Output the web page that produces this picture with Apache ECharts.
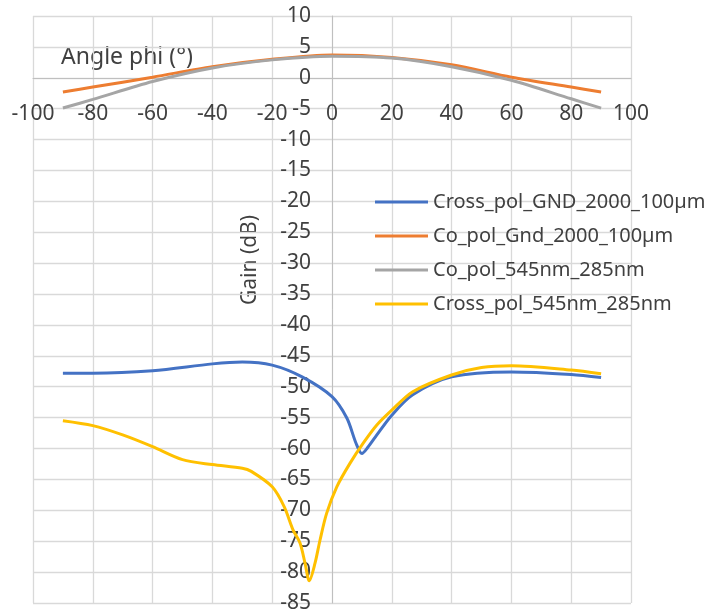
<!DOCTYPE html>
<html>
<head>
<meta charset="utf-8">
<script src="https://cdn.jsdelivr.net/npm/echarts/dist/echarts.min.js"></script>
<style>html,body{margin:0;padding:0;background:#fff}#c{width:726px;height:614px}</style>
</head>
<body>
<div id="c"></div>
<script>
// Data
const seriesNames = ['Cross_pol_GND_2000_100µm', 'Co_pol_Gnd_2000_100µm', 'Co_pol_545nm_285nm', 'Cross_pol_545nm_285nm'];
const coAngles = [-90, -80, -60, -40, -20, 0, 20, 40, 60, 80, 90];
const coPolGnd = [-2.3, -1.5, 0.1, 1.8, 3.0, 3.7, 3.3, 2.1, 0.1, -1.5, -2.3];
const coPol545 = [-4.9, -3.5, -0.6, 1.6, 2.9, 3.5, 3.2, 1.8, -0.4, -3.4, -4.9];
const crossGndAngles = [-90, -80, -60, -40, -30, -20, -10, 0, 5, 8, 10, 12, 15, 20, 27, 40, 60, 80, 90];
const crossPolGnd = [-47.8, -47.8, -47.4, -46.3, -46.0, -46.5, -48.4, -51.6, -55.1, -59.1, -60.8, -59.8, -57.8, -54.6, -51.3, -48.4, -47.6, -48.0, -48.5];
const cross545Angles = [-90, -80, -70, -60, -50, -40, -30, -27, -20, -16, -13, -10.7, -9, -7.6, -5.7, -4, -1.8, 1.6, 6, 10.5, 15, 20, 27, 40, 50, 60, 80, 90];
const crossPol545 = [-55.5, -56.3, -57.8, -59.7, -61.8, -62.6, -63.2, -63.7, -66.2, -69.4, -73.2, -75.3, -78.6, -81.4, -78.6, -74.8, -70.5, -66.2, -62.4, -59.1, -56.2, -53.8, -50.8, -48.1, -46.9, -46.6, -47.3, -47.9];
const xTicks = {min: -100, max: 100, interval: 20};
const yTicks = {min: -85, max: 10, interval: 5};

const pair = (xs, ys) => xs.map((x, i) => [x, ys[i]]);
const colors = ['#4472C4', '#ED7D31', '#A5A5A5', '#FFC000'];
const datasets = [pair(crossGndAngles, crossPolGnd), pair(coAngles, coPolGnd), pair(coAngles, coPol545), pair(cross545Angles, crossPol545)];
const FONT = 'Noto Sans';
const TXT = '#404040';

// plot area
const G = {left: 33, top: 16, width: 598, height: 587};
// offsets that put each axis on the other axis's zero
const yAxisOffset = -G.width * (0 - xTicks.min) / (xTicks.max - xTicks.min);
const xAxisOffset = -G.height * (0 - yTicks.min) / (yTicks.max - yTicks.min);

const chart = echarts.init(document.getElementById('c'), null, {renderer: 'canvas'});
chart.setOption({
  animation: false,
  color: colors,
  textStyle: {fontFamily: FONT},
  grid: Object.assign({containLabel: false, outerBoundsMode: 'none'}, G),
  xAxis: {
    type: 'value', min: xTicks.min, max: xTicks.max, interval: xTicks.interval,
    position: 'bottom', offset: xAxisOffset,
    axisLine: {show: true, onZero: false, lineStyle: {color: '#bfbfbf', width: 1}},
    axisTick: {show: false},
    axisLabel: {fontFamily: FONT, fontSize: 21, color: TXT, margin: 26},
    splitLine: {show: true, lineStyle: {color: '#d9d9d9', width: 1.3}}
  },
  yAxis: {
    type: 'value', min: yTicks.min, max: yTicks.max, interval: yTicks.interval,
    position: 'left', offset: yAxisOffset,
    axisLine: {show: true, onZero: false, lineStyle: {color: '#bfbfbf', width: 1}},
    axisTick: {show: false},
    axisLabel: {fontFamily: FONT, fontSize: 21, color: TXT, margin: 21},
    splitLine: {show: true, lineStyle: {color: '#d9d9d9', width: 1.3}}
  },
  legend: {
    orient: 'vertical', left: 375, top: 191, padding: 0,
    icon: 'rect', itemWidth: 53, itemHeight: 3, itemGap: 12,
    textStyle: {fontFamily: FONT, fontSize: 20, color: TXT, lineHeight: 22},
    data: seriesNames
  },
  graphic: [
    {type: 'text', x: 127, y: 57, style: {text: 'Angle phi (°)', font: '23px "Noto Sans"', fill: TXT, align: 'center', verticalAlign: 'middle'}},
    {type: 'text', x: 250, y: 260, rotation: Math.PI / 2, style: {text: 'Gain (dB)', font: '21px "Noto Sans"', fill: TXT, align: 'center', verticalAlign: 'middle'}}
  ],
  series: seriesNames.map((n, i) => ({
    name: n, type: 'line', data: datasets[i], smooth: 0.3, showSymbol: false, symbol: 'none',
    lineStyle: {width: 3, color: colors[i]}, z: i === 3 ? 4 : 3
  }))
});
</script>
</body>
</html>
